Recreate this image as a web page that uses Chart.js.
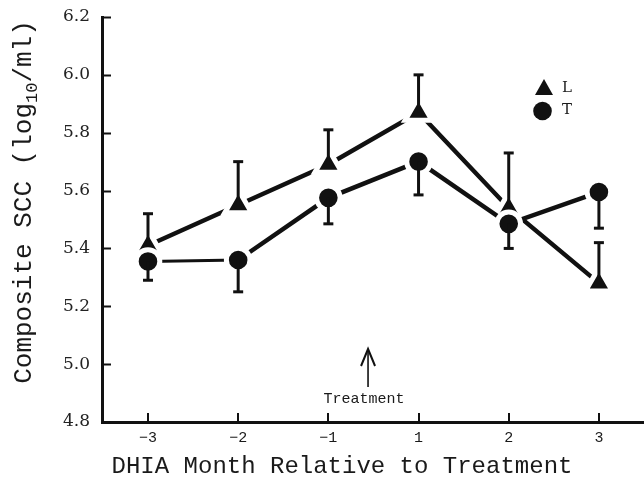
<!DOCTYPE html>
<html>
<head>
<meta charset="utf-8">
<script src="https://cdn.jsdelivr.net/npm/chart.js@4.4.0/dist/chart.umd.min.js"></script>
<style>
  html, body { margin: 0; padding: 0; background: #fff; }
  #wrap { width: 644px; height: 485px; }
</style>
</head>
<body>
<div id="wrap"><canvas id="chart" width="644" height="485"></canvas></div>
<script>
// DHIA months relative to treatment (no month 0)
const months = ['\u22123', '\u22122', '\u22121', '1', '2', '3'];
const yTicks = [4.8, 5.0, 5.2, 5.4, 5.6, 5.8, 6.0, 6.2];

// L group: means and top of error bar
const lMeans = [5.41, 5.55, 5.69, 5.87, 5.54, 5.28];
const lUpper = [5.52, 5.70, 5.81, 6.00, 5.73, 5.42];

// T group: means and bottom of error bar
const tMeans = [5.355, 5.36, 5.575, 5.70, 5.485, 5.595];
const tLower = [5.29, 5.25, 5.485, 5.585, 5.40, 5.47];

const treatmentAt = 2.44; // between -1 and 1
const ink = '#111';

const toPoints = arr => arr.map((v, i) => ({ x: i, y: v }));

// inward tick marks
const inwardTicks = {
  id: 'inwardTicks',
  beforeDatasetsDraw(chart) {
    const { ctx, chartArea, scales } = chart;
    ctx.save();
    ctx.strokeStyle = ink;
    ctx.lineWidth = 2;
    yTicks.forEach(v => {
      const py = Math.round(scales.y.getPixelForValue(v)) + 0.5;
      ctx.beginPath();
      ctx.moveTo(chartArea.left, py);
      ctx.lineTo(chartArea.left + 9, py);
      ctx.stroke();
    });
    months.forEach((m, i) => {
      const px = Math.round(scales.x.getPixelForValue(i));
      ctx.beginPath();
      ctx.moveTo(px, chartArea.bottom);
      ctx.lineTo(px, chartArea.bottom - 9);
      ctx.stroke();
    });
    ctx.restore();
  }
};

const errorBars = {
  id: 'errorBars',
  afterDatasetsDraw(chart) {
    const { ctx, scales } = chart;
    ctx.save();
    ctx.strokeStyle = ink;
    [[lMeans, lUpper], [tMeans, tLower]].forEach(([means, ends]) => {
      means.forEach((m, i) => {
        const px = scales.x.getPixelForValue(i);
        const y0 = scales.y.getPixelForValue(m);
        const y1 = scales.y.getPixelForValue(ends[i]);
        ctx.lineWidth = 3;
        ctx.beginPath();
        ctx.moveTo(px, y0);
        ctx.lineTo(px, y1);
        ctx.stroke();
        ctx.beginPath();
        ctx.moveTo(px - 5, y1);
        ctx.lineTo(px + 5, y1);
        ctx.stroke();
      });
    });
    ctx.restore();
  }
};

const extras = {
  id: 'extras',
  afterDraw(chart) {
    const { ctx, scales } = chart;
    ctx.save();
    ctx.fillStyle = '#1a1a1a';
    ctx.strokeStyle = ink;

    // x axis title
    ctx.font = '24px "Liberation Mono", monospace';
    ctx.textAlign = 'center';
    ctx.textBaseline = 'middle';
    ctx.fillText('DHIA Month Relative to Treatment', 342, 467);

    // y axis title with subscript
    ctx.save();
    ctx.translate(22, 202);
    ctx.rotate(-Math.PI / 2);
    const big = '26px "Liberation Mono", monospace';
    const small = '17px "Liberation Mono", monospace';
    const p1 = 'Composite SCC (log', p2 = '10', p3 = '/ml)';
    ctx.font = big;
    const w1 = ctx.measureText(p1).width, w3 = ctx.measureText(p3).width;
    ctx.font = small;
    const w2 = ctx.measureText(p2).width;
    let sx = -(w1 + w2 + w3) / 2;
    ctx.textAlign = 'left';
    ctx.textBaseline = 'alphabetic';
    ctx.font = big;
    ctx.fillText(p1, sx, 9);
    sx += w1;
    ctx.font = small;
    ctx.fillText(p2, sx, 15);
    sx += w2;
    ctx.font = big;
    ctx.fillText(p3, sx, 9);
    ctx.restore();

    // treatment arrow
    const ax = scales.x.getPixelForValue(treatmentAt);
    ctx.lineWidth = 1.6;
    ctx.beginPath();
    ctx.moveTo(ax, 387);
    ctx.lineTo(ax, 350);
    ctx.stroke();
    ctx.lineWidth = 2;
    ctx.beginPath();
    ctx.moveTo(ax - 7, 366);
    ctx.lineTo(ax, 349);
    ctx.lineTo(ax + 7, 366);
    ctx.stroke();
    ctx.font = '15px "Liberation Mono", monospace';
    ctx.textAlign = 'center';
    ctx.textBaseline = 'middle';
    ctx.fillText('Treatment', ax - 4, 399);

    // legend
    const ds = chart.data.datasets;
    ctx.fillStyle = ink;
    ctx.beginPath();
    ctx.moveTo(544, 79);
    ctx.lineTo(553, 95);
    ctx.lineTo(535, 95);
    ctx.closePath();
    ctx.fill();
    ctx.beginPath();
    ctx.arc(542.5, 111, 9.3, 0, Math.PI * 2);
    ctx.fill();
    ctx.fillStyle = '#1a1a1a';
    ctx.font = '15px "DejaVu Serif", serif';
    ctx.textAlign = 'center';
    ctx.fillText(ds[0].label, 567, 88);
    ctx.fillText(ds[1].label, 567, 110);
    ctx.restore();
  }
};

new Chart(document.getElementById('chart').getContext('2d'), {
  type: 'line',
  data: {
    datasets: [{
      label: 'L',
      data: toPoints(lMeans),
      order: 1,
      borderColor: ink,
      borderWidth: 4.5,
      pointStyle: 'triangle',
      pointRadius: 15.5,
      pointBackgroundColor: ink,
      pointBorderColor: '#fff',
      pointBorderWidth: 5
    }, {
      label: 'T',
      data: toPoints(tMeans),
      order: 0,
      borderColor: ink,
      borderWidth: 4.5,
      segment: {
        borderWidth: c => c.p0DataIndex === 0 ? 3 : 4.5
      },
      pointStyle: 'circle',
      pointRadius: 11.8,
      pointBackgroundColor: ink,
      pointBorderColor: '#fff',
      pointBorderWidth: 5
    }]
  },
  options: {
    responsive: false,
    animation: false,
    devicePixelRatio: 1,
    layout: { autoPadding: false, padding: { top: 17, right: 0, left: 0, bottom: 0 } },
    plugins: {
      legend: { display: false },
      tooltip: { enabled: false }
    },
    scales: {
      x: {
        type: 'linear',
        min: -0.51,
        max: 5.5,
        afterBuildTicks: s => { s.ticks = months.map((m, i) => ({ value: i })); },
        afterFit: s => { s.height = 63; s.paddingLeft = 0; s.paddingRight = 0; },
        ticks: {
          callback: v => months[v],
          autoSkip: false,
          maxRotation: 0,
          padding: 7,
          color: '#1a1a1a',
          font: { family: '"Liberation Mono", monospace', size: 15 }
        },
        grid: { drawOnChartArea: false, drawTicks: false },
        border: { display: true, color: ink, width: 3 }
      },
      y: {
        min: 4.8,
        max: 6.2,
        afterBuildTicks: s => { s.ticks = yTicks.map(v => ({ value: v })); },
        afterFit: s => { s.width = 102; s.paddingTop = 0; s.paddingBottom = 0; },
        ticks: {
          callback: v => v.toFixed(1),
          padding: 12,
          color: '#222',
          font: { family: '"DejaVu Serif", serif', size: 17 }
        },
        grid: { drawOnChartArea: false, drawTicks: false },
        border: { display: true, color: ink, width: 3 }
      }
    }
  },
  plugins: [inwardTicks, errorBars, extras]
});
</script>
</body>
</html>
